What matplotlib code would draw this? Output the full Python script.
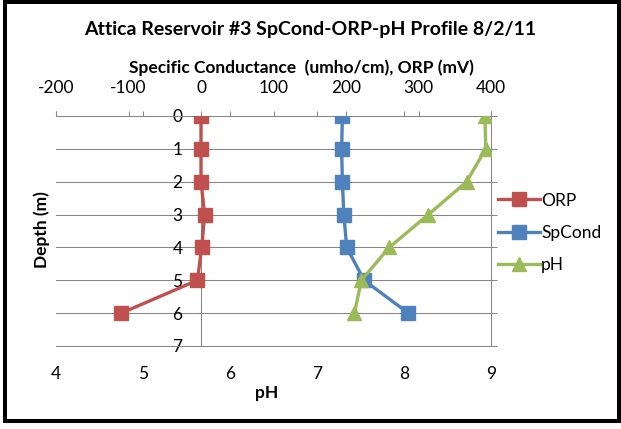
import matplotlib
matplotlib.use("Agg")
import matplotlib.pyplot as plt
from matplotlib.patches import Rectangle

plt.rcParams['font.family'] = ['Lato', 'DejaVu Sans']
plt.rcParams['axes.unicode_minus'] = False

depth = [0, 1, 2, 3, 4, 5, 6]
orp = [0, 0, 0, 5, 1, -5, -110]
spcond = [195, 194, 195, 197, 201, 225, 286]
ph = [8.93, 8.94, 8.72, 8.28, 7.83, 7.51, 7.43]

title = "Attica Reservoir #3 SpCond-ORP-pH Profile 8/2/11"
top_label = "Specific Conductance  (umho/cm), ORP (mV)"
y_label = "Depth (m)"
bottom_label = "pH"
top_ticks = [-200, -100, 0, 100, 200, 300, 400]
ph_ticks = [4, 5, 6, 7, 8, 9]
depth_ticks = [0, 1, 2, 3, 4, 5, 6, 7]

RED = '#C0504D'
BLUE = '#4F81BD'
GREEN = '#9BBB59'
GRID = '#868686'

W, H = 621, 429
fig = plt.figure(figsize=(W / 100, H / 100), dpi=100)

L, R, T, B = 56, 491, 116, 346
ax = fig.add_axes([L / W, (H - B) / H, (R - L) / W, (B - T) / H])
ax.set_xlim(-200, 400)
ax.set_ylim(7, 0)

ax.plot(orp, depth, color=RED, lw=2.4, marker='s', ms=9.5, mec=RED, mfc=RED, label='ORP', zorder=3)
ax.plot(spcond, depth, color=BLUE, lw=2.4, marker='s', ms=9.5, mec=BLUE, mfc=BLUE, label='SpCond', zorder=3)

ax2 = ax.twiny()
ax2.set_xlim(4, 9)
ax2.plot(ph, depth, color=GREEN, lw=2.4, marker='^', ms=9.5, mec=GREEN, mfc=GREEN, label='pH', zorder=3)
for s in ax2.spines.values():
    s.set_visible(False)

FS = 12.5
# ORP / SpCond axis: ticks and labels on top
ax.set_xticks(top_ticks)
ax.tick_params(axis='x', bottom=False, top=True, labelbottom=False, labeltop=True,
               direction='out', length=3.6, width=0.75, color=GRID, pad=11, labelsize=FS)
# pH axis: ticks on top, labels at bottom
ax2.set_xticks(ph_ticks)
ax2.tick_params(axis='x', bottom=False, top=True, labelbottom=True, labeltop=False,
                direction='out', length=3.6, width=0.75, color=GRID, pad=10.5, labelsize=FS)

ax.set_yticks(depth_ticks)
ax.spines['left'].set_position(('data', 0))
ax.tick_params(axis='y', left=True, right=True, direction='out', length=4.3, width=0.75,
               color=GRID, pad=9, labelsize=FS)
ax.yaxis.grid(True, color=GRID, lw=0.75)
ax.set_axisbelow(True)
for s in ax.spines.values():
    s.set_color(GRID)
    s.set_linewidth(0.75)

def fx(px):
    return px / W

def fy(py):
    return (H - py) / H

fig.text(fx(310), fy(29), title, ha='center', va='center', fontsize=14, fontweight='bold')
fig.text(fx(301), fy(68), top_label, ha='center', va='center', fontsize=12.5, fontweight='bold')
fig.text(fx(42), fy(230), y_label, ha='center', va='center', fontsize=12.5, fontweight='bold', rotation=90)
fig.text(fx(267), fy(393), bottom_label, ha='center', va='center', fontsize=12.5, fontweight='bold')

h1, l1 = ax.get_legend_handles_labels()
h2, l2 = ax2.get_legend_handles_labels()
fig.legend(h1 + h2, l1 + l2, loc='center left', bbox_to_anchor=(fx(498), fy(233)),
           frameon=False, fontsize=FS, handlelength=2.4, handletextpad=0.08,
           labelspacing=0.95, borderpad=0, borderaxespad=0)

fig.patches.append(Rectangle((fx(4.7), fy(421)), fx(618.7) - fx(4.7), fy(2) - fy(421),
                             transform=fig.transFigure, fill=False, ec='black', lw=2.9))

fig.savefig('out.png', dpi=100)
